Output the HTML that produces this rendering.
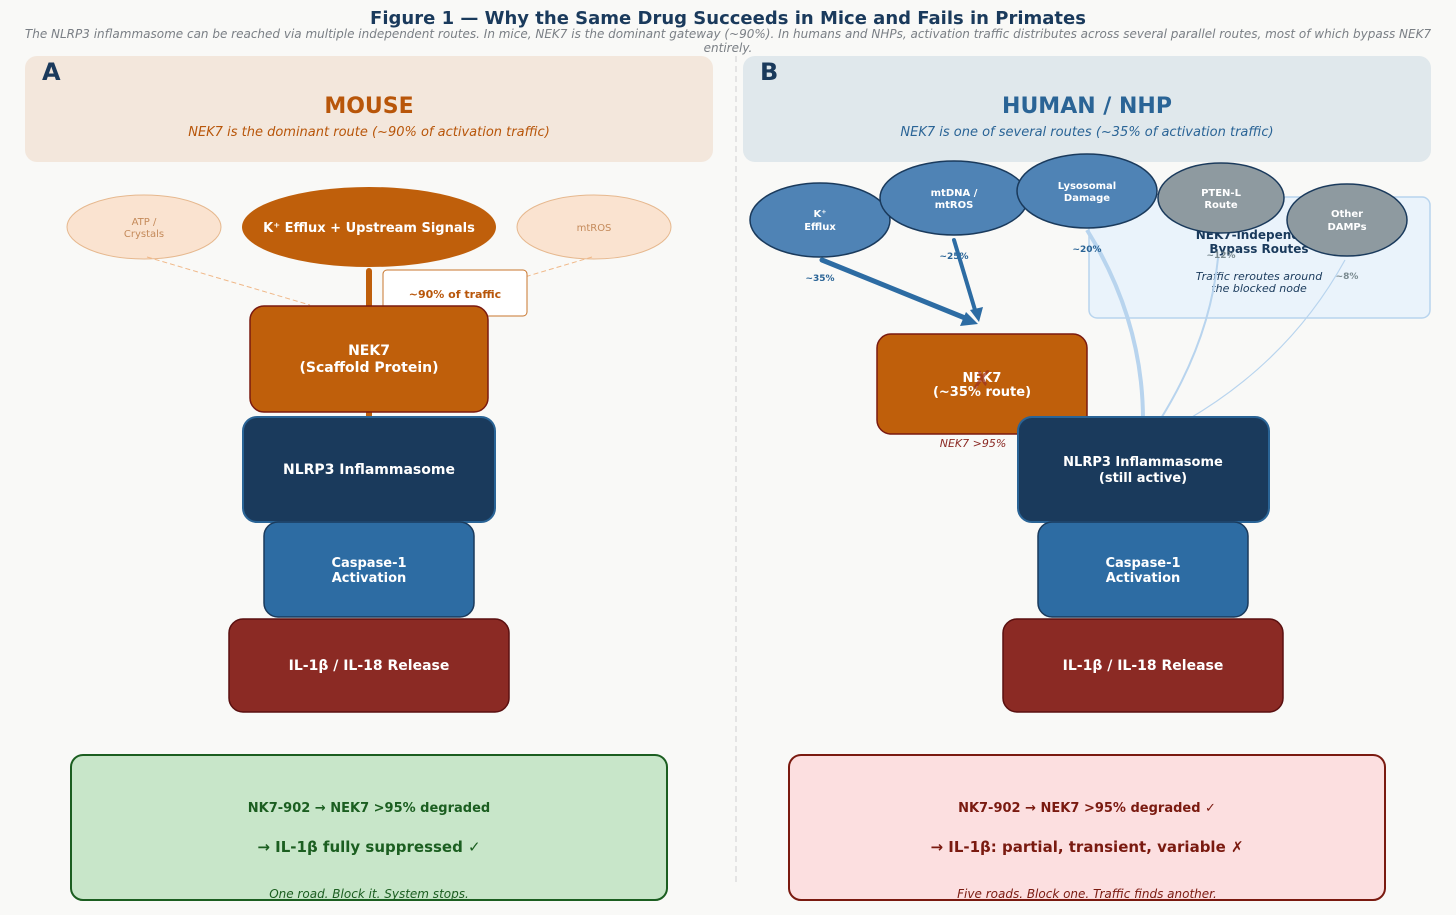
<!DOCTYPE html>
<html><head><meta charset="utf-8"><style>
html,body{margin:0;padding:0;background:#f9f9f7;}
svg{display:block;font-family:"DejaVu Sans","Liberation Sans",sans-serif;}
</style></head><body>
<svg width="1456" height="915" viewBox="0 0 1456 915" xmlns="http://www.w3.org/2000/svg">
<rect width="1456" height="915" fill="#f9f9f7"/>
<text x="728" y="24" text-anchor="middle" font-size="18" font-weight="bold" fill="#1a3a5c">Figure 1 — Why the Same Drug Succeeds in Mice and Fails in Primates</text>
<text x="728" y="38" text-anchor="middle" font-size="12" font-style="italic" fill="#7a7f85">The NLRP3 inflammasome can be reached via multiple independent routes. In mice, NEK7 is the dominant gateway (~90%). In humans and NHPs, activation traffic distributes across several parallel routes, most of which bypass NEK7</text>
<text x="728" y="52" text-anchor="middle" font-size="12" font-style="italic" fill="#7a7f85">entirely.</text>
<line x1="736" y1="56" x2="736" y2="885" stroke="#d0d0d0" stroke-dasharray="6,4"/>

<!-- Panel A -->
<rect x="25" y="56" width="688" height="106" rx="12" fill="#f3e7dc"/>
<text x="42" y="80" font-size="24" font-weight="bold" fill="#1a3a5c">A</text>
<text x="369" y="113" text-anchor="middle" font-size="22" font-weight="bold" fill="#b8560a">MOUSE</text>
<text x="369" y="136" text-anchor="middle" font-size="13" font-style="italic" fill="#b8560a">NEK7 is the dominant route  (~90% of activation traffic)</text>

<ellipse cx="144" cy="227" rx="77" ry="32" fill="#fae3d0" stroke="#e6b88e"/>
<text x="144" y="225" text-anchor="middle" font-size="10" fill="#c48a5a">ATP /</text>
<text x="144" y="237" text-anchor="middle" font-size="10" fill="#c48a5a">Crystals</text>
<ellipse cx="594" cy="227" rx="77" ry="32" fill="#fae3d0" stroke="#e6b88e"/>
<text x="594" y="231" text-anchor="middle" font-size="10" fill="#c48a5a">mtROS</text>
<ellipse cx="369" cy="227" rx="127" ry="40" fill="#bf5f0b"/>
<text x="369" y="232" text-anchor="middle" font-size="13" font-weight="bold" fill="#fff">K⁺ Efflux + Upstream Signals</text>
<line x1="147" y1="257" x2="310" y2="305" stroke="#f0b888" stroke-dasharray="5,3"/>
<line x1="592" y1="257" x2="430" y2="305" stroke="#f0b888" stroke-dasharray="5,3"/>
<line x1="369" y1="271" x2="369" y2="308" stroke="#bf5f0b" stroke-width="6" stroke-linecap="round"/>
<rect x="383" y="270" width="144" height="46" rx="4" fill="#fff" stroke="#c8762e"/>
<text x="455" y="298" text-anchor="middle" font-size="11" font-weight="bold" fill="#b8560a">~90% of traffic</text>

<line x1="369" y1="410" x2="369" y2="419" stroke="#bf5f0b" stroke-width="6"/>
<rect x="250" y="306" width="238" height="106" rx="14" fill="#bf5f0b" stroke="#7a1a10" stroke-width="1.5"/>
<text x="369" y="355" text-anchor="middle" font-size="14" font-weight="bold" fill="#fff">NEK7</text>
<text x="369" y="372" text-anchor="middle" font-size="14" font-weight="bold" fill="#fff">(Scaffold Protein)</text>
<rect x="243" y="417" width="252" height="105" rx="14" fill="#1a3a5c" stroke="#2a6496" stroke-width="2"/>
<text x="369" y="474" text-anchor="middle" font-size="14" font-weight="bold" fill="#fff">NLRP3 Inflammasome</text>
<rect x="264" y="522" width="210" height="95" rx="14" fill="#2d6ca3" stroke="#1a3a5c" stroke-width="1.5"/>
<text x="369" y="567" text-anchor="middle" font-size="13" font-weight="bold" fill="#fff">Caspase-1</text>
<text x="369" y="582" text-anchor="middle" font-size="13" font-weight="bold" fill="#fff">Activation</text>
<rect x="229" y="619" width="280" height="93" rx="14" fill="#8b2a24" stroke="#5a1010" stroke-width="1.5"/>
<text x="369" y="670" text-anchor="middle" font-size="14" font-weight="bold" fill="#fff">IL-1β / IL-18 Release</text>

<rect x="71" y="755" width="596" height="145" rx="12" fill="#c8e6c9" stroke="#1b5e20" stroke-width="2"/>
<text x="369" y="812" text-anchor="middle" font-size="13" font-weight="bold" fill="#1b5e20">NK7-902 → NEK7 &gt;95% degraded</text>
<text x="369" y="852" text-anchor="middle" font-size="15" font-weight="bold" fill="#1b5e20">→  IL-1β fully suppressed  ✓</text>
<text x="369" y="898" text-anchor="middle" font-size="12" font-style="italic" fill="#1b5e20">One road. Block it. System stops.</text>

<!-- Panel B -->
<rect x="743" y="56" width="688" height="106" rx="12" fill="#e0e8ec"/>
<text x="760" y="80" font-size="24" font-weight="bold" fill="#1a3a5c">B</text>
<text x="1087" y="113" text-anchor="middle" font-size="22" font-weight="bold" fill="#2a6496">HUMAN / NHP</text>
<text x="1087" y="136" text-anchor="middle" font-size="13" font-style="italic" fill="#2a6496">NEK7 is one of several routes  (~35% of activation traffic)</text>

<rect x="1089" y="197" width="341" height="121" rx="8" fill="#eaf3fb" stroke="#b8d4ee" stroke-width="1.5"/>
<text x="1259" y="239" text-anchor="middle" font-size="12" font-weight="bold" fill="#1a3a5c">NEK7-independent</text>
<text x="1259" y="253" text-anchor="middle" font-size="12" font-weight="bold" fill="#1a3a5c">Bypass Routes</text>
<text x="1259" y="280" text-anchor="middle" font-size="11" font-style="italic" fill="#1a3a5c">Traffic reroutes around</text>
<text x="1259" y="292" text-anchor="middle" font-size="11" font-style="italic" fill="#1a3a5c">the blocked node</text>

<path d="M1087,230 Q1143,320 1143,420" fill="none" stroke="#b8d4ee" stroke-width="4"/>
<path d="M1218,258 Q1210,340 1160,420" fill="none" stroke="#b8d4ee" stroke-width="2"/>
<path d="M1345,260 Q1290,360 1187,420" fill="none" stroke="#b8d4ee" stroke-width="1.2"/>

<ellipse cx="820" cy="220" rx="70" ry="37" fill="#4f83b5" stroke="#1a3a5c" stroke-width="1.5"/>
<text x="820" y="217" text-anchor="middle" font-size="10" font-weight="bold" fill="#fff">K⁺</text>
<text x="820" y="230" text-anchor="middle" font-size="10" font-weight="bold" fill="#fff">Efflux</text>
<ellipse cx="954" cy="198" rx="74" ry="37" fill="#4f83b5" stroke="#1a3a5c" stroke-width="1.5"/>
<text x="954" y="196" text-anchor="middle" font-size="10" font-weight="bold" fill="#fff">mtDNA /</text>
<text x="954" y="208" text-anchor="middle" font-size="10" font-weight="bold" fill="#fff">mtROS</text>
<ellipse cx="1087" cy="191" rx="70" ry="37" fill="#4f83b5" stroke="#1a3a5c" stroke-width="1.5"/>
<text x="1087" y="189" text-anchor="middle" font-size="10" font-weight="bold" fill="#fff">Lysosomal</text>
<text x="1087" y="201" text-anchor="middle" font-size="10" font-weight="bold" fill="#fff">Damage</text>
<ellipse cx="1221" cy="198" rx="63" ry="35" fill="#8e9aa0" stroke="#1a3a5c" stroke-width="1.5"/>
<text x="1221" y="196" text-anchor="middle" font-size="10" font-weight="bold" fill="#fff">PTEN-L</text>
<text x="1221" y="208" text-anchor="middle" font-size="10" font-weight="bold" fill="#fff">Route</text>
<ellipse cx="1347" cy="220" rx="60" ry="36" fill="#8e9aa0" stroke="#1a3a5c" stroke-width="1.5"/>
<text x="1347" y="217" text-anchor="middle" font-size="10" font-weight="bold" fill="#fff">Other</text>
<text x="1347" y="230" text-anchor="middle" font-size="10" font-weight="bold" fill="#fff">DAMPs</text>

<text x="820" y="281" text-anchor="middle" font-size="9" font-weight="bold" fill="#2a6496">~35%</text>
<text x="954" y="259" text-anchor="middle" font-size="9" font-weight="bold" fill="#2a6496">~25%</text>
<text x="1087" y="252" text-anchor="middle" font-size="9" font-weight="bold" fill="#2a6496">~20%</text>
<text x="1221" y="258" text-anchor="middle" font-size="9" font-weight="bold" fill="#7a8a90">~12%</text>
<text x="1347" y="279" text-anchor="middle" font-size="9" font-weight="bold" fill="#7a8a90">~8%</text>

<line x1="822" y1="260" x2="965" y2="318" stroke="#2d6ca3" stroke-width="5" stroke-linecap="round"/>
<polygon points="978,324 960,326 966,312" fill="#2d6ca3"/>
<line x1="954" y1="240" x2="975" y2="310" stroke="#2d6ca3" stroke-width="4" stroke-linecap="round"/>
<polygon points="979,322 970,310 983,307" fill="#2d6ca3"/>

<rect x="877" y="334" width="210" height="100" rx="14" fill="#bf5f0b" stroke="#7a1a10" stroke-width="1.5"/>
<text x="982" y="382" text-anchor="middle" font-size="13" font-weight="bold" fill="#fff">NEK7</text>
<text x="982" y="396" text-anchor="middle" font-size="13" font-weight="bold" fill="#fff">(~35% route)</text>
<text x="982" y="389" text-anchor="middle" font-size="26" fill="#a0341e" opacity="0.75">✗</text>
<text x="973" y="447" text-anchor="middle" font-size="11" font-style="italic" fill="#8b2a24">NEK7 &gt;95%</text>

<rect x="1018" y="417" width="251" height="105" rx="14" fill="#1a3a5c" stroke="#2a6496" stroke-width="2"/>
<text x="1143" y="466" text-anchor="middle" font-size="13" font-weight="bold" fill="#fff">NLRP3 Inflammasome</text>
<text x="1143" y="482" text-anchor="middle" font-size="13" font-weight="bold" fill="#fff">(still active)</text>
<rect x="1038" y="522" width="210" height="95" rx="14" fill="#2d6ca3" stroke="#1a3a5c" stroke-width="1.5"/>
<text x="1143" y="567" text-anchor="middle" font-size="13" font-weight="bold" fill="#fff">Caspase-1</text>
<text x="1143" y="582" text-anchor="middle" font-size="13" font-weight="bold" fill="#fff">Activation</text>
<rect x="1003" y="619" width="280" height="93" rx="14" fill="#8b2a24" stroke="#5a1010" stroke-width="1.5"/>
<text x="1143" y="670" text-anchor="middle" font-size="14" font-weight="bold" fill="#fff">IL-1β / IL-18 Release</text>

<rect x="789" y="755" width="596" height="145" rx="12" fill="#fcdfe0" stroke="#7a1a10" stroke-width="2"/>
<text x="1087" y="812" text-anchor="middle" font-size="13" font-weight="bold" fill="#7a1a10">NK7-902 → NEK7 &gt;95% degraded  ✓</text>
<text x="1087" y="852" text-anchor="middle" font-size="15" font-weight="bold" fill="#7a1a10">→  IL-1β: partial, transient, variable  ✗</text>
<text x="1087" y="898" text-anchor="middle" font-size="12" font-style="italic" fill="#7a1a10">Five roads. Block one. Traffic finds another.</text>
</svg>
</body></html>
